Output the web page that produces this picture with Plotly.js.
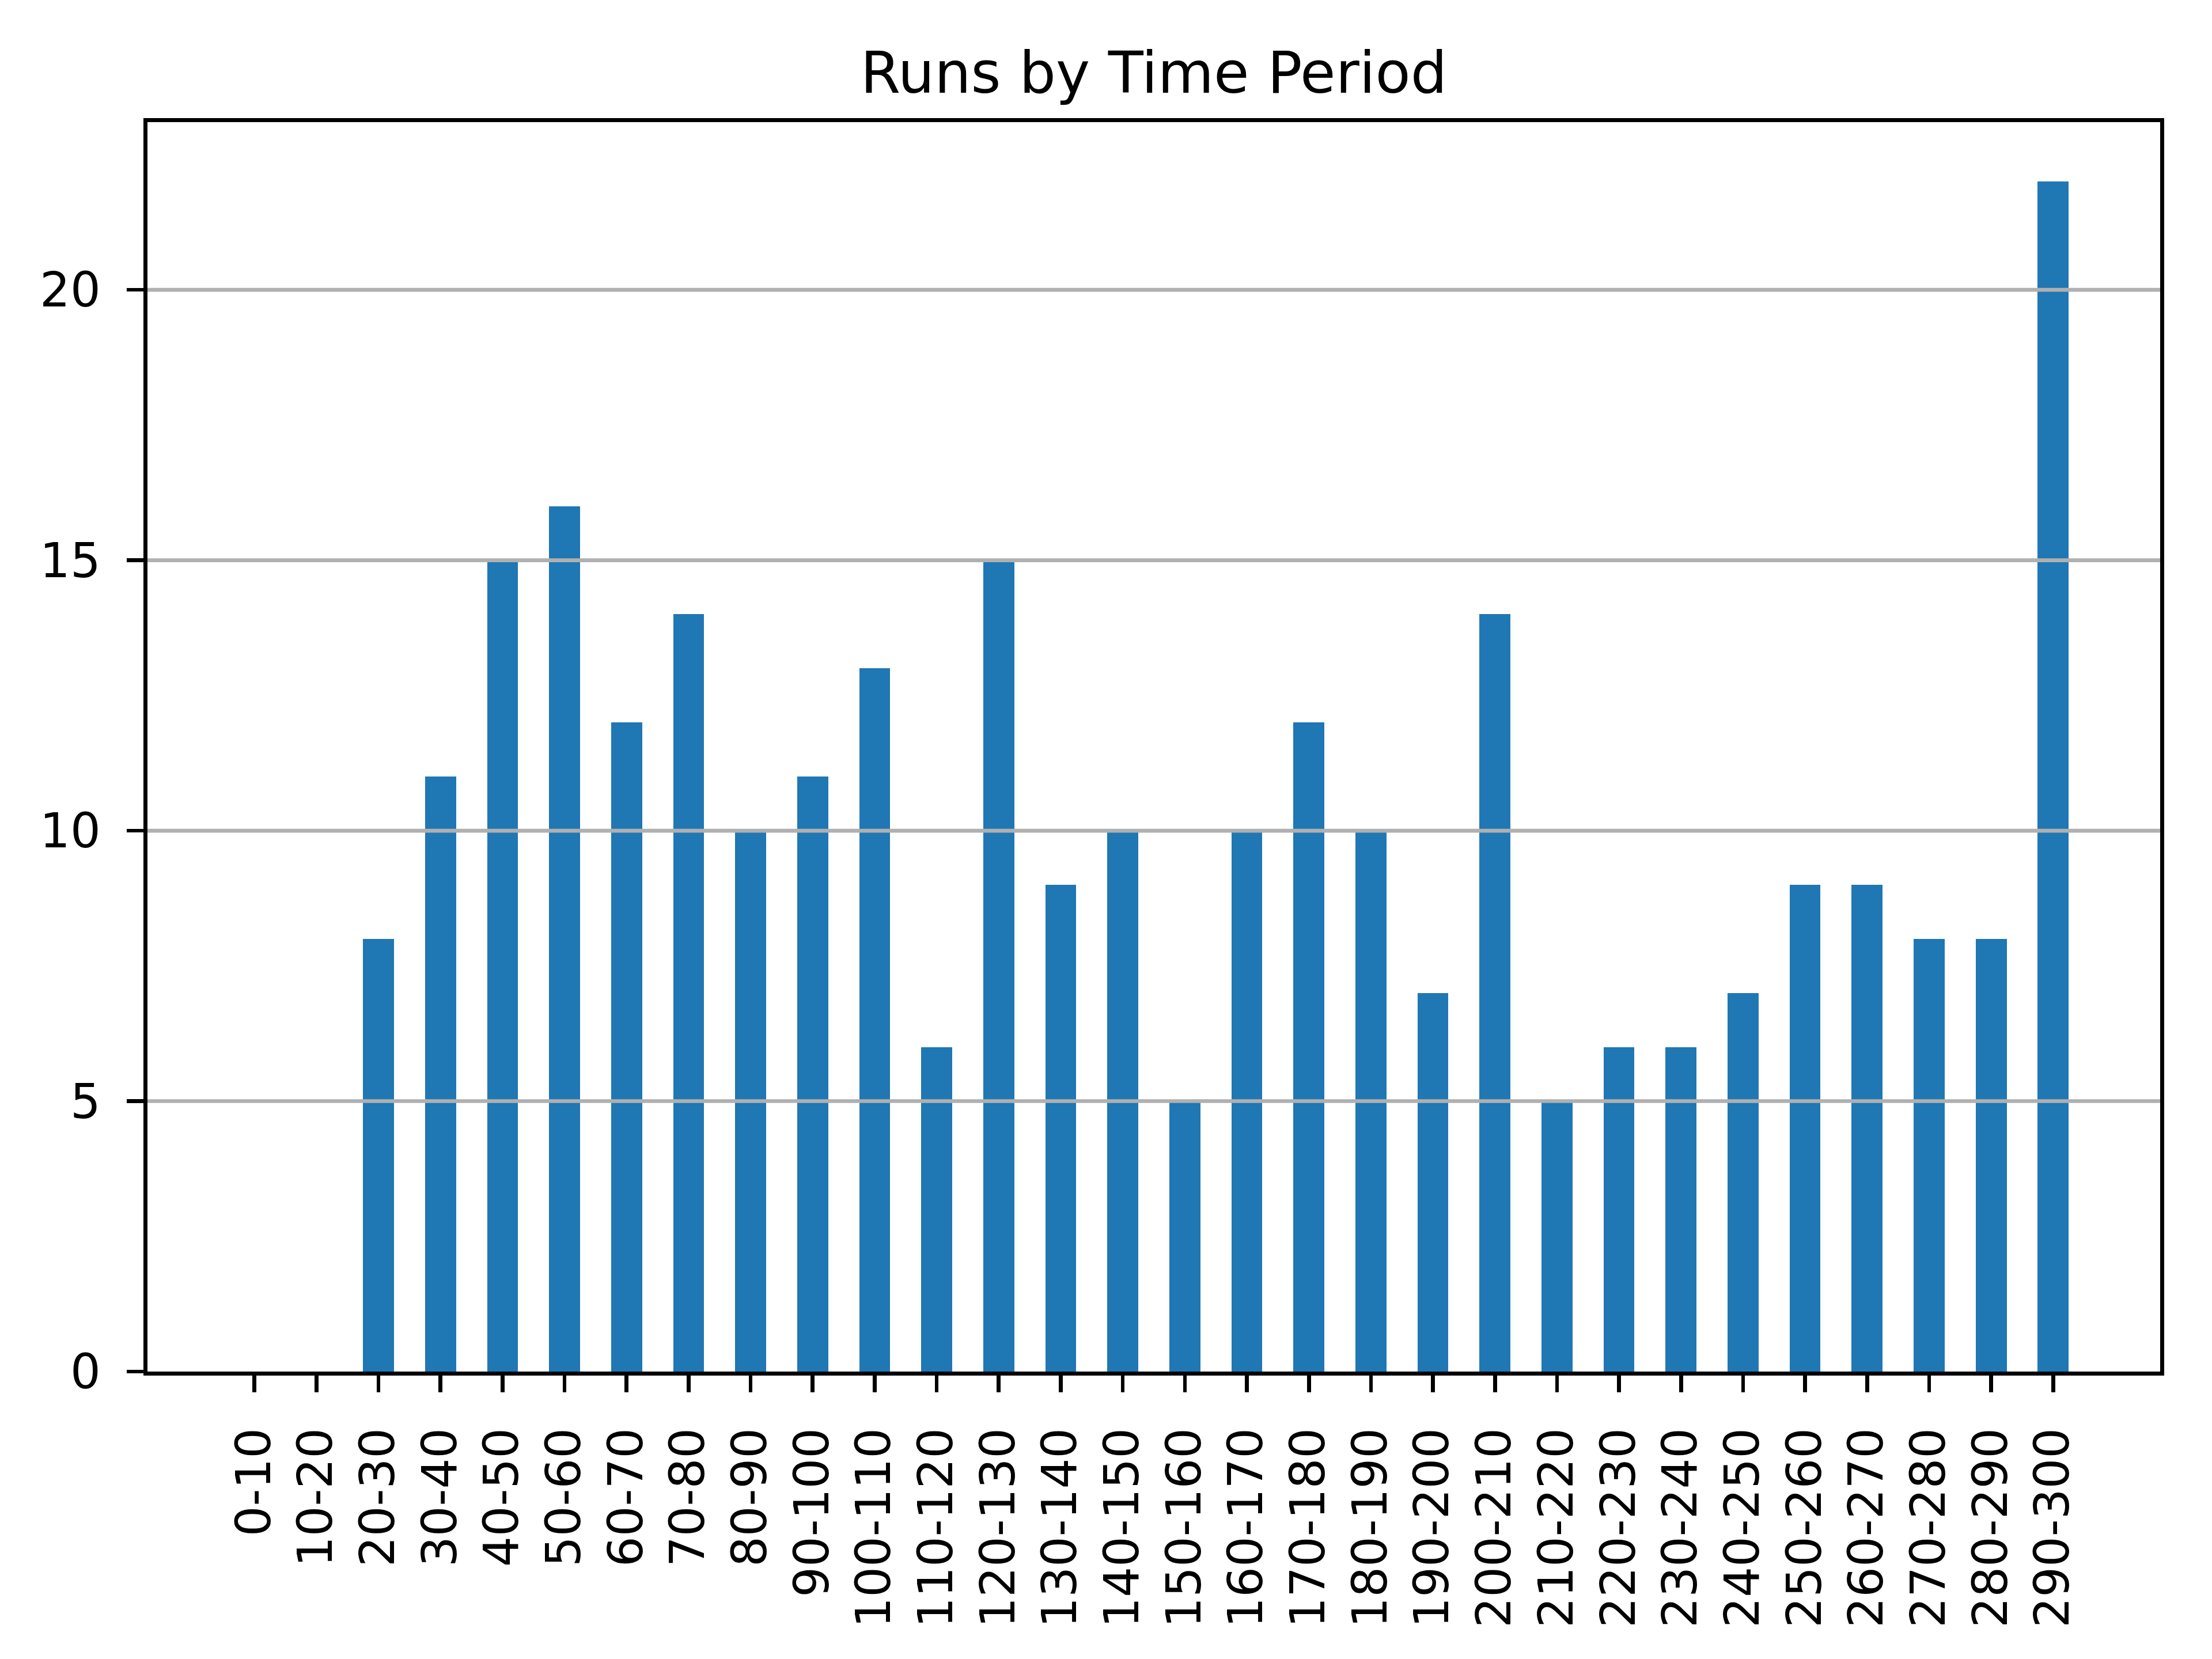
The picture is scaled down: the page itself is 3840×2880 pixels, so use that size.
<!DOCTYPE html>
<html>
<head>
<meta charset="utf-8">
<script src="https://cdn.plot.ly/plotly-3.0.1.min.js"></script>
<style>html,body{margin:0;padding:0;background:#fff;}#chart{width:3840px;height:2880px;}</style>
</head>
<body>
<div id="chart"></div>
<script>
const categories = ["0-10","10-20","20-30","30-40","40-50","50-60","60-70","70-80","80-90","90-100",
  "100-110","110-120","120-130","130-140","140-150","150-160","160-170","170-180","180-190","190-200",
  "200-210","210-220","220-230","230-240","240-250","250-260","260-270","270-280","280-290","290-300"];
const runs = [0,0,8,11,15,16,12,14,10,11,13,6,15,9,10,5,10,12,10,7,14,5,6,6,7,9,9,8,8,22];
const yTicks = [0,5,10,15,20];
const titleText = "Runs by Time Period";

const font = "DejaVu Sans";
const lw = 6.67;

const gridShapes = yTicks.filter(v => v > 0).map(v => ({
  type: "line", xref: "paper", yref: "y", x0: 0, x1: 1, y0: v, y1: v,
  line: {color: "#b0b0b0", width: lw}, layer: "above"
}));

const trace = {
  type: "bar",
  x: categories,
  y: runs,
  width: 0.5,
  marker: {color: "#1f77b4", line: {width: 0}},
  hoverinfo: "skip"
};

const layout = {
  width: 3840, height: 2880,
  paper_bgcolor: "#ffffff", plot_bgcolor: "#ffffff",
  margin: {l: 256, r: 90, t: 212, b: 499, pad: 0},
  showlegend: false,
  font: {family: font, color: "#000000", size: 83},
  title: {
    text: titleText,
    font: {family: font, size: 100, color: "#000000"},
    x: 0.5, xref: "paper", xanchor: "center",
    y: 1 - 126 / 2880, yref: "container", yanchor: "middle"
  },
  xaxis: {
    type: "category",
    range: [-1.725, 30.725],
    showgrid: false, zeroline: false,
    showline: true, mirror: true, linecolor: "#000000", linewidth: lw,
    ticks: "outside", ticklen: 29, tickwidth: lw, tickcolor: "#000000",
    tickangle: -90,
    ticklabelstandoff: 29,
    tickfont: {family: font, size: 83, color: "#000000"}
  },
  yaxis: {
    range: [0, 23.1],
    tickvals: yTicks,
    ticktext: yTicks.map(String),
    showgrid: false, zeroline: false,
    showline: true, mirror: true, linecolor: "#000000", linewidth: lw,
    ticks: "outside", ticklen: 29, tickwidth: lw, tickcolor: "#000000",
    ticklabelstandoff: 29,
    tickfont: {family: font, size: 83, color: "#000000"}
  },
  shapes: gridShapes,
  bargap: 0
};

Plotly.newPlot("chart", [trace], layout, {staticPlot: true, displayModeBar: false});
</script>
</body>
</html>
